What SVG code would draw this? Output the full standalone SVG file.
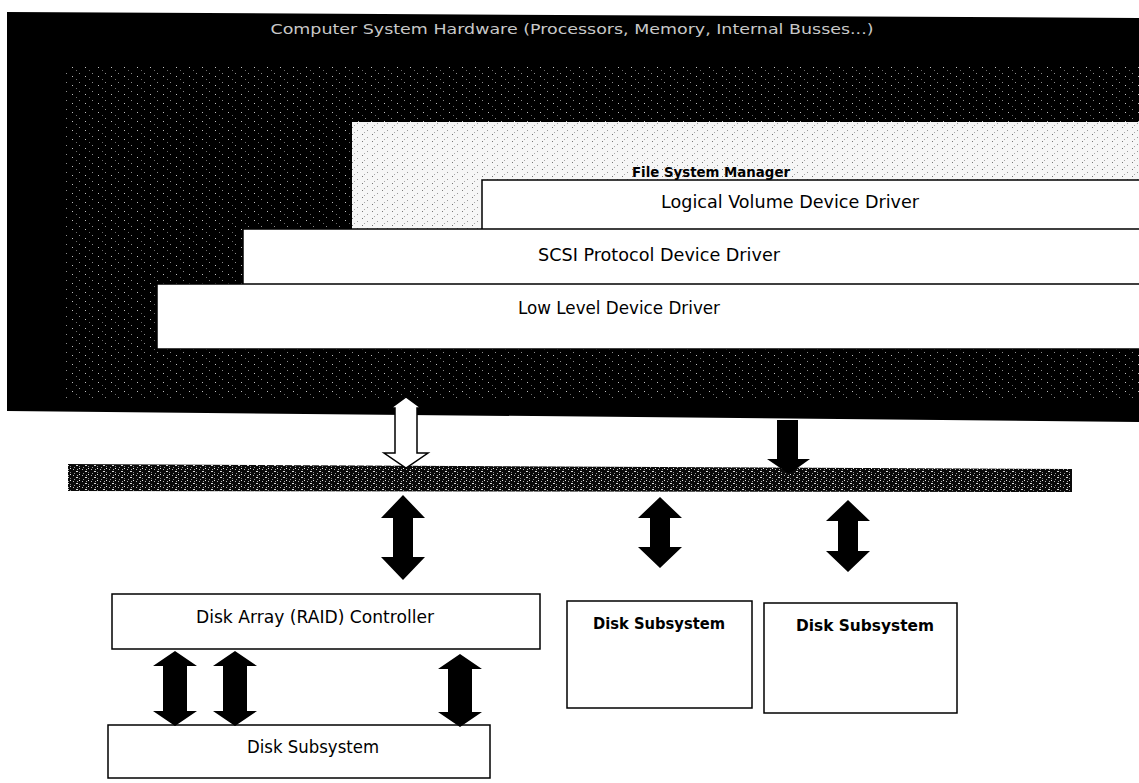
<svg xmlns="http://www.w3.org/2000/svg" width="1139" height="783" viewBox="0 0 1139 783">
<defs>
<pattern id="speck" width="13" height="9" patternUnits="userSpaceOnUse">
<rect width="13" height="9" fill="#000"/>
<rect x="1" y="1" width="1" height="1" fill="#8a8a8a"/>
<rect x="7" y="4" width="1" height="1" fill="#bfbfbf"/>
<rect x="11" y="7" width="1" height="1" fill="#6a6a6a"/>
</pattern>
<pattern id="speck2" width="9" height="6" patternUnits="userSpaceOnUse">
<rect width="9" height="6" fill="#0a0a0a"/>
<rect x="1" y="1" width="1" height="1" fill="#bbb"/>
<rect x="4" y="3" width="2" height="1" fill="#ddd"/>
<rect x="7" y="4" width="1" height="1" fill="#888"/>
<rect x="2" y="5" width="1" height="1" fill="#999"/>
<rect x="7" y="0" width="1" height="1" fill="#eee"/>
<rect x="5" y="1" width="1" height="1" fill="#aaa"/>
</pattern>
<pattern id="light" width="10" height="7" patternUnits="userSpaceOnUse">
<rect width="10" height="7" fill="#f6f6f6"/>
<rect x="2" y="1" width="1" height="1" fill="#777"/>
<rect x="7" y="4" width="1" height="1" fill="#999"/>
<rect x="4" y="6" width="1" height="1" fill="#aaa"/>
</pattern>
</defs>
<style>
.box{fill:#fff;stroke:#000;stroke-width:1.5}
.t{font-family:"DejaVu Sans",Verdana,sans-serif;font-size:17px;fill:#000;text-anchor:middle}
.b{font-weight:bold}
.arr{fill:#000}
.warr{fill:#fff;stroke:#000;stroke-width:1.5}
</style>
<rect width="1139" height="783" fill="#fff"/>
<g id="computer">
<polygon points="7,12 1139,18 1139,422 7,411" fill="#000"/>
<rect x="66" y="65" width="1073" height="333" fill="url(#speck)"/>
<text x="572" y="34" textLength="603" lengthAdjust="spacingAndGlyphs" style="font-family:'DejaVu Sans',Verdana,sans-serif;font-size:14px;fill:#c8c8c8;text-anchor:middle">Computer System Hardware (Processors, Memory, Internal Busses...)</text>
</g>
<g id="fsm">
<rect x="352" y="122" width="787" height="108" fill="url(#light)"/>
<text class="t b" x="711" y="177" textLength="158" lengthAdjust="spacingAndGlyphs" style="font-size:14px">File System Manager</text>
</g>
<g id="lvdd">
<rect class="box" x="482" y="180" width="660" height="59"/>
<text class="t" x="790" y="208" textLength="258" lengthAdjust="spacingAndGlyphs">Logical Volume Device Driver</text>
</g>
<g id="scsi">
<rect class="box" x="243" y="229" width="900" height="63"/>
<text class="t" x="659" y="261" textLength="242" lengthAdjust="spacingAndGlyphs">SCSI Protocol Device Driver</text>
</g>
<g id="lldd">
<rect class="box" x="157" y="284" width="986" height="65"/>
<text class="t" x="619" y="314" textLength="202" lengthAdjust="spacingAndGlyphs">Low Level Device Driver</text>
</g>
<g id="bus">
<polygon points="68,464 1072,469 1072,492 68,491" fill="url(#speck2)"/>
</g>
<g id="raid">
<rect class="box" x="112" y="594" width="428" height="55"/>
<text class="t" x="315" y="623" textLength="238" lengthAdjust="spacingAndGlyphs">Disk Array (RAID) Controller</text>
</g>
<g id="disk1">
<rect class="box" x="108" y="725" width="382" height="53"/>
<text class="t" x="313" y="753" textLength="132" lengthAdjust="spacingAndGlyphs">Disk Subsystem</text>
</g>
<g id="disk2">
<rect class="box" x="567" y="601" width="185" height="107"/>
<text class="t b" x="659" y="629" textLength="132" lengthAdjust="spacingAndGlyphs" style="font-size:15px">Disk Subsystem</text>
</g>
<g id="disk3">
<rect class="box" x="764" y="603" width="193" height="110"/>
<text class="t b" x="865" y="631" textLength="138" lengthAdjust="spacingAndGlyphs" style="font-size:15.5px">Disk Subsystem</text>
</g>
<g id="connectors">
<polygon class="warr" points="406,397 421,408 417,408 417,453 428,453 406,468 384,453 395,453 395,408 391,408"/>
<polygon class="arr" points="777,420 798,420 798,459 810,459 789,474 767,459 777,459"/>
<polygon class="arr" points="403,495 425,518 413,518 413,557 425,557 403,580 381,557 393,557 393,518 381,518"/>
<polygon class="arr" points="660,497 682,518 670,518 670,547 682,547 660,568 638,547 650,547 650,518 638,518"/>
<polygon class="arr" points="848,500 870,521 858,521 858,551 870,551 848,572 826,551 838,551 838,521 826,521"/>
<polygon class="arr" points="175,651 197,666 187,666 187,711 197,711 175,726 153,711 163,711 163,666 153,666"/>
<polygon class="arr" points="235,651 257,666 247,666 247,711 257,711 235,726 213,711 223,711 223,666 213,666"/>
<polygon class="arr" points="460,654 482,669 472,669 472,712 482,712 460,727 438,712 448,712 448,669 438,669"/>
</g>
</svg>
